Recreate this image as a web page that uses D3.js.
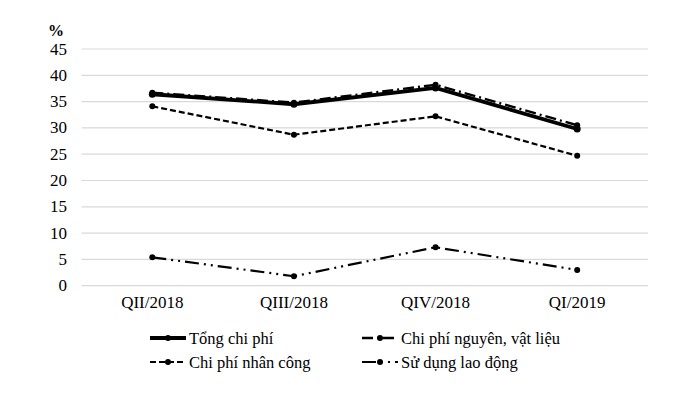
<!DOCTYPE html>
<html lang="vi">
<head>
<meta charset="utf-8">
<style>
  body { margin: 0; background: #fff; }
  svg text { font-family: "Liberation Serif", "DejaVu Serif", serif; }
  .grid line { stroke: #d9d9d9; stroke-width: 1.2px; }
  .series { fill: none; stroke: #000; }
</style>
</head>
<body>
<svg width="700" height="395"></svg>
<script src="https://cdn.jsdelivr.net/npm/d3@7"></script>
<script>
// quarters on the x axis
const quarters = ["QII/2018", "QIII/2018", "QIV/2018", "QI/2019"];
const yTicks = [0, 5, 10, 15, 20, 25, 30, 35, 40, 45];

// values in %
const tongChiPhi   = [36.4, 34.5, 37.6, 29.8];
const nguyenVatLieu = [36.7, 34.8, 38.2, 30.5];
const nhanCong     = [34.1, 28.7, 32.2, 24.7];
const laoDong      = [5.4, 1.8, 7.3, 3.0];

const seriesNames = ["Tổng chi phí", "Chi phí nguyên, vật liệu", "Chi phí nhân công", "Sử dụng lao động"];

const styles = [
  { width: 3.8, dash: null },
  { width: 2.4, dash: "11,4,2,4" },
  { width: 2.2, dash: "6,3" },
  { width: 2.2, dash: "14,5,2,5,2,5" }
];

const series = [tongChiPhi, nguyenVatLieu, nhanCong, laoDong].map((v, i) => ({
  name: seriesNames[i], values: v, style: styles[i]
}));

const svg = d3.select("svg");
const plotLeft = 81.5, plotRight = 648, plotTop = 49, plotBottom = 285.7;

const x = d3.scaleBand().domain(quarters).range([plotLeft, plotRight]);
const y = d3.scaleLinear().domain([0, 45]).range([plotBottom, plotTop]);

// gridlines
svg.append("g").attr("class", "grid")
  .selectAll("line").data(yTicks).join("line")
  .attr("x1", plotLeft).attr("x2", plotRight)
  .attr("y1", d => y(d)).attr("y2", d => y(d));

// y labels
svg.append("g").selectAll("text").data(yTicks).join("text")
  .attr("x", 67).attr("y", d => y(d) + 5.5)
  .attr("text-anchor", "end")
  .attr("font-size", 17)
  .text(d => d);

svg.append("text").attr("x", 48).attr("y", 36)
  .attr("font-size", 16).attr("font-weight", "bold")
  .text("%");

// x labels
svg.append("g").selectAll("text").data(quarters).join("text")
  .attr("x", d => x(d) + x.bandwidth() / 2).attr("y", 308)
  .attr("text-anchor", "middle")
  .attr("font-size", 17)
  .text(d => d);

const line = d3.line()
  .x((d, i) => x(quarters[i]) + x.bandwidth() / 2)
  .y(d => y(d));

// draw bottom-most first so total sits on top
const order = [3, 2, 1, 0];
order.forEach(k => {
  const s = series[k];
  const g = svg.append("g");
  g.append("path").attr("class", "series")
    .attr("d", line(s.values))
    .attr("stroke-width", s.style.width)
    .attr("stroke-dasharray", s.style.dash);
  g.selectAll("circle").data(s.values).join("circle")
    .attr("cx", (d, i) => x(quarters[i]) + x.bandwidth() / 2)
    .attr("cy", d => y(d))
    .attr("r", k === 0 ? 3.5 : 3)
    .attr("fill", "#000");
});

// legend
const legendPos = [
  { x: 150, y: 338 }, { x: 362, y: 338 },
  { x: 150, y: 362 }, { x: 362, y: 362 }
];
series.forEach((s, i) => {
  const p = legendPos[i];
  const g = svg.append("g").attr("transform", `translate(${p.x},${p.y})`);
  g.append("line").attr("x1", 0).attr("x2", 36).attr("y1", 0).attr("y2", 0)
    .attr("stroke", "#000")
    .attr("stroke-width", s.style.width)
    .attr("stroke-dasharray", s.style.dash);
  g.append("circle").attr("cx", 18).attr("cy", 0).attr("r", 3).attr("fill", "#000");
  g.append("text").attr("x", 39).attr("y", 5.5)
    .attr("font-size", 16.5)
    .text(s.name);
});
</script>
</body>
</html>
